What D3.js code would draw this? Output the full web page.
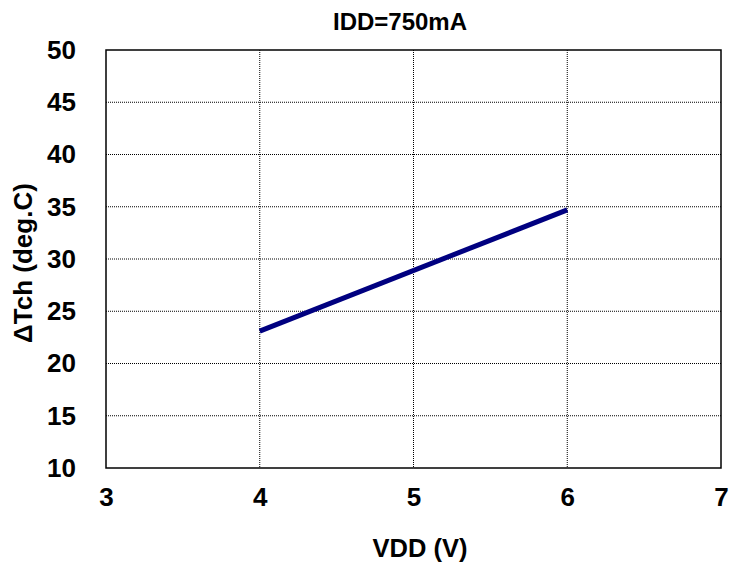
<!DOCTYPE html>
<html>
<head>
<meta charset="utf-8">
<script src="https://cdn.jsdelivr.net/npm/d3@7"></script>
<style>
  body { margin: 0; background: #fff; }
  text { font-family: "Liberation Sans", Arial, sans-serif; font-weight: bold; fill: #000; }
</style>
</head>
<body>
<div id="chart"></div>
<script>
// chart values
const titleText = "IDD=750mA";
const xLabel = "VDD (V)";
const yLabel = "\u0394Tch (deg.C)";
const vdd = [4, 6];
const dTch = [23.1, 34.7];
const xTicks = [3, 4, 5, 6, 7];
const yTicks = [10, 15, 20, 25, 30, 35, 40, 45, 50];

const W = 730, H = 564;
const margin = {top: 50, right: 9, bottom: 96, left: 106};
const width = W - margin.left - margin.right;
const height = H - margin.top - margin.bottom;

const svg = d3.select("#chart").append("svg")
    .attr("width", W)
    .attr("height", H);
const g = svg.append("g")
    .attr("transform", `translate(${margin.left},${margin.top})`);

const x = d3.scaleLinear().domain([3, 7]).range([0, width]);
const y = d3.scaleLinear().domain([10, 50]).range([height, 0]);

// grid
g.selectAll(".vgrid")
    .data(xTicks.slice(1, -1))
    .enter().append("line")
    .attr("x1", d => x(d)).attr("x2", d => x(d))
    .attr("y1", 0).attr("y2", height)
    .attr("stroke", "#000")
    .attr("stroke-width", 1)
    .attr("stroke-dasharray", "1,1");
g.selectAll(".hgrid")
    .data(yTicks.slice(1, -1))
    .enter().append("line")
    .attr("x1", 0).attr("x2", width)
    .attr("y1", d => y(d)).attr("y2", d => y(d))
    .attr("stroke", "#000")
    .attr("stroke-width", 1)
    .attr("stroke-dasharray", "1,1");

// frame
g.append("rect")
    .attr("width", width).attr("height", height)
    .attr("fill", "none")
    .attr("stroke", "#000")
    .attr("stroke-width", 1.5);

// axes (labels only)
const xAxis = g.append("g")
    .attr("transform", `translate(0,${height})`)
    .call(d3.axisBottom(x).tickValues(xTicks).tickFormat(d3.format("d")).tickSize(0).tickPadding(20));
const yAxis = g.append("g")
    .call(d3.axisLeft(y).tickValues(yTicks).tickFormat(d3.format("d")).tickSize(0).tickPadding(30));
[xAxis, yAxis].forEach(a => {
    a.select(".domain").remove();
    a.selectAll("text")
        .style("font-size", "26px")
        .style("font-family", "'Liberation Sans', Arial, sans-serif")
        .style("font-weight", "bold")
        .attr("fill", "#000");
});

// line
const line = d3.line()
    .x((d, i) => x(vdd[i]))
    .y(d => y(d));
g.append("path")
    .datum(dTch)
    .attr("d", line)
    .attr("fill", "none")
    .attr("stroke", "#000080")
    .attr("stroke-width", 5);

// titles
svg.append("text")
    .attr("x", 400)
    .attr("y", 30)
    .attr("text-anchor", "middle")
    .style("font-size", "24px")
    .text(titleText);
svg.append("text")
    .attr("x", 420)
    .attr("y", 557)
    .attr("text-anchor", "middle")
    .style("font-size", "25.5px")
    .text(xLabel);
svg.append("text")
    .attr("transform", `translate(32,263) rotate(-90)`)
    .attr("text-anchor", "middle")
    .style("font-size", "26px")
    .text(yLabel);
</script>
</body>
</html>
